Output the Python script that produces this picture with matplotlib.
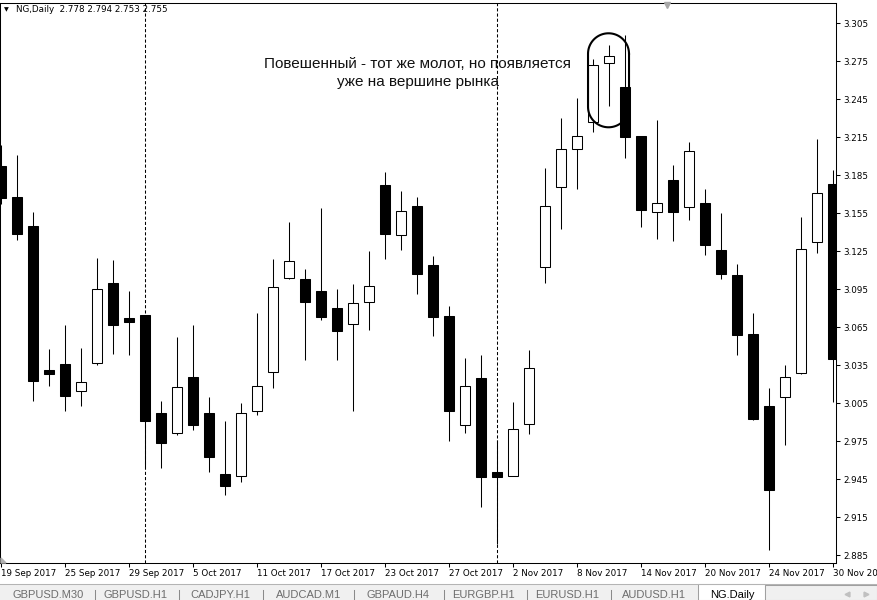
import numpy as np
import matplotlib.pyplot as plt
from matplotlib.patches import Rectangle, Polygon
from matplotlib.lines import Line2D

# NG, Daily  19 Sep 2017 - 30 Nov 2017 (53 bars)
opens = [3.192, 3.168, 3.145, 3.031, 3.036, 3.015, 3.037, 3.100, 3.072, 3.075,
         2.997, 2.982, 3.026, 2.997, 2.949, 2.948, 2.999, 3.030, 3.104, 3.103,
         3.094, 3.080, 3.068, 3.085, 3.177, 3.138, 3.161, 3.114, 3.074, 2.988,
         3.025, 2.951, 2.948, 2.989, 3.113, 3.176, 3.206, 3.227, 3.274, 3.255,
         3.216, 3.156, 3.181, 3.160, 3.163, 3.126, 3.106, 3.060, 3.003, 3.010,
         3.029, 3.132, 3.178]
highs = [3.209, 3.201, 3.156, 3.048, 3.067, 3.049, 3.120, 3.118, 3.094, 3.075,
         3.007, 3.057, 3.067, 3.010, 2.991, 3.005, 3.076, 3.119, 3.148, 3.111,
         3.159, 3.095, 3.099, 3.125, 3.188, 3.173, 3.168, 3.121, 3.082, 3.041,
         3.043, 2.976, 3.006, 3.047, 3.191, 3.230, 3.246, 3.277, 3.288, 3.296,
         3.216, 3.229, 3.193, 3.211, 3.174, 3.155, 3.115, 3.076, 3.017, 3.035,
         3.152, 3.214, 3.189]
lows = [3.162, 3.134, 3.007, 3.019, 2.999, 3.003, 3.035, 3.044, 3.043, 2.955,
        2.954, 2.980, 2.984, 2.951, 2.933, 2.943, 2.996, 3.017, 3.103, 3.039,
        3.071, 3.039, 2.999, 3.063, 3.119, 3.126, 3.091, 3.058, 2.975, 2.982,
        2.923, 2.894, 2.948, 2.981, 3.100, 3.143, 3.174, 3.219, 3.240, 3.199,
        3.144, 3.135, 3.133, 3.150, 3.122, 3.103, 3.043, 2.992, 2.889, 2.972,
        3.028, 3.124, 3.006]
closes = [3.167, 3.139, 3.023, 3.028, 3.011, 3.022, 3.095, 3.067, 3.069, 2.991,
          2.974, 3.018, 2.988, 2.963, 2.940, 2.997, 3.019, 3.097, 3.117, 3.085,
          3.073, 3.062, 3.084, 3.098, 3.139, 3.157, 3.107, 3.073, 2.999, 3.019,
          2.947, 2.947, 2.985, 3.033, 3.161, 3.206, 3.216, 3.272, 3.279, 3.215,
          3.158, 3.163, 3.156, 3.204, 3.130, 3.107, 3.059, 2.993, 2.937, 3.026,
          3.127, 3.171, 3.040]

xtick_labels = ['19 Sep 2017', '25 Sep 2017', '29 Sep 2017', '5 Oct 2017',
                '11 Oct 2017', '17 Oct 2017', '23 Oct 2017', '27 Oct 2017',
                '2 Nov 2017', '8 Nov 2017', '14 Nov 2017', '20 Nov 2017',
                '24 Nov 2017', '30 Nov 2017']
ytick_values = [2.885, 2.915, 2.945, 2.975, 3.005, 3.035, 3.065, 3.095,
                3.125, 3.155, 3.185, 3.215, 3.245, 3.275, 3.305]
month_starts = [9, 31]      # 2 Oct, 1 Nov -> period separators
marked_bar = 38             # 10 Nov, hanging man
tabs = ['GBPUSD.M30', 'GBPUSD.H1', 'CADJPY.H1', 'AUDCAD.M1', 'GBPAUD.H4',
        'EURGBP.H1', 'EURUSD.H1', 'AUDUSD.H1', 'NG.Daily']

W, H = 878, 600
fig = plt.figure(figsize=(W / 100, H / 100), dpi=100)
fig.patch.set_facecolor('white')
ax = fig.add_axes([0, 37 / H, 836 / W, 560 / H])

o = np.array(opens); h = np.array(highs); l = np.array(lows); c = np.array(closes)
x = np.arange(len(o))
up = c >= o

ax.vlines(x, l, h, color='black', lw=0.75, zorder=2)
ax.bar(x, np.abs(c - o), bottom=np.minimum(o, c), width=0.63,
       color=np.where(up, 'white', 'black'), edgecolor='black',
       linewidth=0.75, zorder=3)

for m in month_starts:
    ax.axvline(m, color='black', lw=0.75, linestyle=(0, (3, 2)), zorder=1)

ax.set_xlim(-1 / 16, 835 / 16)
ax.set_ylim(2.879, 3.321)

# capsule around the hanging man (pixel radius converted to data units)
rx, ry = 20.5 / 16, 20.5 / 1267
half_h = 47 / 1267
cy = (highs[marked_bar] + lows[marked_bar]) / 2 - 0.004
t = np.linspace(0, np.pi, 40)
px_ = np.concatenate([marked_bar - 0.03 + rx * np.cos(t), marked_bar - 0.03 + rx * np.cos(t + np.pi)])
py_ = np.concatenate([cy + half_h - ry + ry * np.sin(t), cy - half_h + ry + ry * np.sin(t + np.pi)])
px_ = np.append(px_, px_[0]); py_ = np.append(py_, py_[0])
ax.plot(px_, py_, color='black', lw=1.5, zorder=4)

ax.text(26.05, 3.2657, 'Повешенный - тот же молот, но появляется\nуже на вершине рынка',
        ha='center', va='center', multialignment='center', fontsize=11,
        family='Liberation Sans', color='#111111', linespacing=1.3, zorder=5)

ax.yaxis.tick_right()
ax.set_yticks(ytick_values)
ax.set_yticklabels(['%.3f' % v for v in ytick_values])
ax.set_xticks(np.arange(0, len(o), 4))
ax.set_xticklabels(xtick_labels, ha='left')
ax.tick_params(axis='y', direction='out', length=3, width=0.75, pad=2,
               labelsize=6.3, colors='black')
ax.tick_params(axis='x', direction='out', length=3, width=0.75, pad=1.5,
               labelsize=6.3, colors='black')
for s in ax.spines.values():
    s.set_linewidth(0.75)
    s.set_color('black')

# header
fig.text(4 / W, 1 - 10 / H, '▼', fontsize=4.5, va='center', color='black')
fig.text(16 / W, 1 - 10 / H, 'NG,Daily  2.778 2.794 2.753 2.755', fontsize=6.3,
         va='center', color='black')
# chart shift marker
fig.add_artist(Line2D([667 / W], [1 - 5 / H], marker='v', markersize=5,
                      color='#a8a8a8', transform=fig.transFigure))
# corner triangle
fig.add_artist(Polygon([[1 / W, 1 - 563 / H], [6 / W, 1 - 563 / H], [1 / W, 1 - 558 / H]],
                       closed=True, color='#b0b0b0', transform=fig.transFigure))

# tab bar
fig.add_artist(Rectangle((0, 0), 1, 16 / H, facecolor='#f0f0f0', edgecolor='none',
                         transform=fig.transFigure))
fig.add_artist(Line2D([0, 1], [16 / H, 16 / H], color='#b4b4b4', lw=0.75,
                      transform=fig.transFigure))
fig.add_artist(Rectangle((698 / W, 0), 67 / W, 16 / H, facecolor='white',
                         edgecolor='#a0a0a0', lw=0.75, transform=fig.transFigure))
fig.add_artist(Rectangle((765 / W, 0), 112 / W, 15 / H, facecolor='#f0f0f0',
                         edgecolor='#a0a0a0', lw=0.75, transform=fig.transFigure))
tab_centers = [48, 136, 220, 309, 398, 483, 567, 654, 732]
for name, tx in zip(tabs, tab_centers):
    fig.text(tx / W, 1.5 / H, name, ha='center', va='baseline', fontsize=8,
             family='Liberation Sans', color='black' if name == 'NG.Daily' else '#6d6d6d')
for sx in [95, 179, 263, 354, 444, 527, 611]:
    fig.add_artist(Line2D([sx / W, sx / W], [0, 10 / H], color='#8a8a8a', lw=0.75,
                          transform=fig.transFigure))
fig.add_artist(Line2D([847 / W], [6 / H], marker='<', markersize=3.5, color='#c0c0c0',
                      transform=fig.transFigure))
fig.add_artist(Line2D([866 / W], [6 / H], marker='>', markersize=3.5, color='#c0c0c0',
                      transform=fig.transFigure))

fig.savefig('out.png', dpi=100)
